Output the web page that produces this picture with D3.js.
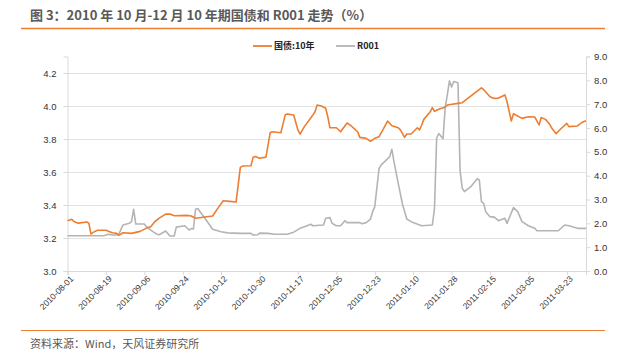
<!DOCTYPE html>
<html>
<head>
<meta charset="utf-8">
<script src="https://cdn.jsdelivr.net/npm/d3@7"></script>
<style>
	body { margin: 0; background: #fff; }
	svg { display: block; }
	.cjk { font-family: "Noto Sans CJK SC", "Noto Sans", sans-serif; }
	.num { font-family: "Liberation Sans", Arial, sans-serif; }
</style>
</head>
<body>
<div class="container"></div>
<script>
// 10年期国债收益率 (%)
const bond10y = [
	["2010-08-01", 3.305], ["2010-08-03", 3.313], ["2010-08-04", 3.300], ["2010-08-06", 3.290],
	["2010-08-10", 3.297], ["2010-08-11", 3.290], ["2010-08-12", 3.224], ["2010-08-13", 3.234],
	["2010-08-15", 3.247], ["2010-08-19", 3.247], ["2010-08-22", 3.232], ["2010-08-24", 3.228],
	["2010-08-25", 3.216], ["2010-08-27", 3.232], ["2010-08-31", 3.228], ["2010-09-04", 3.240],
	["2010-09-07", 3.260], ["2010-09-09", 3.268], ["2010-09-11", 3.300], ["2010-09-13", 3.320],
	["2010-09-16", 3.345], ["2010-09-18", 3.345], ["2010-09-20", 3.335], ["2010-09-26", 3.337],
	["2010-09-28", 3.333], ["2010-09-30", 3.320], ["2010-10-08", 3.333], ["2010-10-11", 3.390],
	["2010-10-13", 3.426], ["2010-10-16", 3.422], ["2010-10-19", 3.418], ["2010-10-21", 3.628],
	["2010-10-22", 3.636], ["2010-10-26", 3.638], ["2010-10-27", 3.690], ["2010-10-28", 3.694],
	["2010-10-30", 3.683], ["2010-11-02", 3.690], ["2010-11-04", 3.838], ["2010-11-05", 3.844],
	["2010-11-09", 3.838], ["2010-11-11", 3.945], ["2010-11-12", 3.952], ["2010-11-15", 3.945],
	["2010-11-17", 3.855], ["2010-11-18", 3.830], ["2010-11-20", 3.875], ["2010-11-24", 3.945],
	["2010-11-25", 3.965], ["2010-11-26", 4.006], ["2010-11-28", 4.000], ["2010-11-30", 3.986],
	["2010-12-01", 3.935], ["2010-12-02", 3.868], ["2010-12-05", 3.868], ["2010-12-07", 3.844],
	["2010-12-10", 3.897], ["2010-12-12", 3.879], ["2010-12-14", 3.855], ["2010-12-15", 3.844],
	["2010-12-16", 3.810], ["2010-12-19", 3.804], ["2010-12-21", 3.786], ["2010-12-23", 3.804],
	["2010-12-25", 3.814], ["2010-12-27", 3.860], ["2010-12-29", 3.909], ["2010-12-31", 3.880],
	["2011-01-03", 3.868], ["2011-01-04", 3.855], ["2011-01-06", 3.810], ["2011-01-07", 3.830],
	["2011-01-09", 3.830], ["2011-01-12", 3.868], ["2011-01-13", 3.855], ["2011-01-14", 3.885],
	["2011-01-15", 3.919], ["2011-01-18", 3.965], ["2011-01-19", 3.990], ["2011-01-20", 3.968],
	["2011-01-22", 3.980], ["2011-01-25", 3.994], ["2011-01-26", 4.006], ["2011-01-31", 4.016],
	["2011-02-02", 4.020], ["2011-02-11", 4.110], ["2011-02-12", 4.100], ["2011-02-15", 4.056],
	["2011-02-17", 4.046], ["2011-02-19", 4.048], ["2011-02-22", 4.067], ["2011-02-23", 4.026],
	["2011-02-25", 3.909], ["2011-02-26", 3.953], ["2011-03-02", 3.925], ["2011-03-05", 3.935],
	["2011-03-08", 3.933], ["2011-03-10", 3.885], ["2011-03-11", 3.930], ["2011-03-13", 3.919],
	["2011-03-15", 3.889], ["2011-03-16", 3.865], ["2011-03-18", 3.832], ["2011-03-20", 3.859],
	["2011-03-23", 3.895], ["2011-03-24", 3.875], ["2011-03-28", 3.879], ["2011-03-30", 3.900],
	["2011-04-01", 3.911]
];

// R001 (%)
const r001 = [
	["2010-08-01", 1.48], ["2010-08-18", 1.48], ["2010-08-20", 1.54], ["2010-08-23", 1.50],
	["2010-08-25", 1.54], ["2010-08-27", 1.93], ["2010-08-30", 2.00], ["2010-08-31", 2.07],
	["2010-09-01", 2.59], ["2010-09-02", 1.97], ["2010-09-06", 1.97], ["2010-09-07", 1.86],
	["2010-09-10", 1.65], ["2010-09-12", 1.54], ["2010-09-13", 1.52], ["2010-09-16", 1.68],
	["2010-09-18", 1.47], ["2010-09-20", 1.47], ["2010-09-21", 1.84], ["2010-09-25", 1.90],
	["2010-09-27", 1.72], ["2010-09-28", 1.78], ["2010-09-29", 1.76], ["2010-09-30", 2.59],
	["2010-10-01", 2.62], ["2010-10-05", 2.14], ["2010-10-08", 1.75], ["2010-10-12", 1.65],
	["2010-10-15", 1.60], ["2010-10-21", 1.58], ["2010-10-26", 1.58], ["2010-10-27", 1.51],
	["2010-10-29", 1.52], ["2010-10-30", 1.59], ["2010-11-03", 1.58], ["2010-11-06", 1.54],
	["2010-11-12", 1.54], ["2010-11-15", 1.63], ["2010-11-18", 1.79], ["2010-11-21", 1.89],
	["2010-11-23", 1.96], ["2010-11-24", 1.90], ["2010-11-29", 1.93], ["2010-11-30", 2.21],
	["2010-12-02", 2.24], ["2010-12-03", 2.00], ["2010-12-05", 1.90], ["2010-12-07", 1.90],
	["2010-12-09", 2.11], ["2010-12-10", 2.03], ["2010-12-16", 2.03], ["2010-12-17", 1.98],
	["2010-12-19", 2.03], ["2010-12-21", 2.18], ["2010-12-22", 2.49], ["2010-12-23", 2.70],
	["2010-12-25", 4.29], ["2010-12-26", 4.45], ["2010-12-28", 4.62], ["2010-12-30", 4.80],
	["2010-12-31", 5.11], ["2011-01-01", 4.59], ["2011-01-03", 3.68], ["2011-01-05", 2.80],
	["2011-01-07", 2.18], ["2011-01-09", 2.07], ["2011-01-14", 1.90], ["2011-01-19", 1.93],
	["2011-01-20", 2.63], ["2011-01-21", 5.58], ["2011-01-22", 5.77], ["2011-01-24", 5.55],
	["2011-01-25", 6.84], ["2011-01-26", 7.39], ["2011-01-27", 7.98], ["2011-01-28", 7.72],
	["2011-01-29", 7.95], ["2011-01-31", 7.90], ["2011-02-01", 4.20], ["2011-02-02", 3.47],
	["2011-02-03", 3.33], ["2011-02-06", 3.54], ["2011-02-09", 3.87], ["2011-02-10", 3.82],
	["2011-02-11", 2.91], ["2011-02-12", 2.84], ["2011-02-13", 2.49], ["2011-02-15", 2.28],
	["2011-02-17", 2.26], ["2011-02-19", 2.11], ["2011-02-22", 2.21], ["2011-02-23", 2.00],
	["2011-02-26", 2.66], ["2011-02-28", 2.49], ["2011-03-02", 2.07], ["2011-03-05", 1.90],
	["2011-03-08", 1.79], ["2011-03-09", 1.69], ["2011-03-19", 1.69], ["2011-03-22", 1.93],
	["2011-03-24", 1.90], ["2011-03-28", 1.79], ["2011-04-01", 1.79]
];

const xTickLabels = ["2010-08-01", "2010-08-19", "2010-09-06", "2010-09-24", "2010-10-12",
	"2010-10-30", "2010-11-17", "2010-12-05", "2010-12-23", "2011-01-10", "2011-01-28",
	"2011-02-15", "2011-03-05", "2011-03-23"];
const leftTicks = [3.0, 3.2, 3.4, 3.6, 3.8, 4.0, 4.2];
const rightTicks = [0, 1, 2, 3, 4, 5, 6, 7, 8, 9];
const seriesNames = ["国债:10年", "R001"];

const title = "图 3：2010 年 10 月-12 月 10 年期国债和 R001 走势（%）";
const source = "资料来源：Wind，天风证券研究所";

const orange = "#ed7d31";
const grey = "#b4b4b4";
const W = 624, H = 354;
const parse = d3.utcParse("%Y-%m-%d");

const svg = d3.select(".container").append("svg")
	.attr("width", W)
	.attr("height", H);

// header / footer
svg.append("text")
	.attr("class", "cjk")
	.attr("x", 30).attr("y", 20)
	.style("font-size", "13px")
	.style("font-weight", "bold")
	.style("fill", "#595959")
	.text(title);

svg.append("line")
	.attr("x1", 21).attr("x2", 605)
	.attr("y1", 28.5).attr("y2", 28.5)
	.style("stroke", orange).style("stroke-width", 1.5);

svg.append("line")
	.attr("x1", 21).attr("x2", 605)
	.attr("y1", 330.5).attr("y2", 330.5)
	.style("stroke", orange).style("stroke-width", 1.2);

svg.append("text")
	.attr("class", "cjk")
	.attr("x", 30).attr("y", 348)
	.style("font-size", "11px")
	.style("fill", "#595959")
	.text(source);

// scales
const plotLeft = 67.5, plotRight = 586, plotTop = 56.5, plotBottom = 271;

const x = d3.scaleUtc()
	.domain([parse("2010-08-01"), parse("2011-04-01")])
	.range([plotLeft, plotRight]);

const yL = d3.scaleLinear().domain([3.0, 4.3]).range([plotBottom, plotTop]);
const yR = d3.scaleLinear().domain([0, 9]).range([plotBottom, plotTop]);

// gridlines
svg.append("g")
	.selectAll("line")
		.data(leftTicks.slice(1)).enter()
	.append("line")
		.attr("x1", plotLeft).attr("x2", plotRight)
		.attr("y1", (d) => Math.round(yL(d)) + 0.5)
		.attr("y2", (d) => Math.round(yL(d)) + 0.5)
		.style("stroke", "#e3e3e3");

// axes
const axisLeft = svg.append("g")
	.attr("transform", `translate(${plotLeft},0)`)
	.call(d3.axisLeft(yL).tickValues(leftTicks).tickFormat(d3.format(".1f")).tickSize(4).tickPadding(7));

const axisRight = svg.append("g")
	.attr("transform", `translate(${plotRight},0)`)
	.call(d3.axisRight(yR).tickValues(rightTicks).tickFormat(d3.format(".1f")).tickSize(4).tickPadding(4));

const axisBottom = svg.append("g")
	.attr("transform", `translate(0,${plotBottom})`)
	.call(d3.axisBottom(x).tickValues(xTickLabels.map(parse)).tickFormat(d3.utcFormat("%Y-%m-%d")).tickSize(4).tickPadding(2));

[axisLeft, axisRight, axisBottom].forEach((g) => {
	g.select(".domain").style("stroke", "#d9d9d9");
	g.selectAll(".tick line").style("stroke", "#d9d9d9");
	g.selectAll("text")
		.attr("class", "num")
		.style("font-size", "9.5px")
		.style("fill", "#333");
});

axisBottom.selectAll("text")
	.style("font-size", "8.5px")
	.style("text-anchor", "end")
	.attr("dx", "-0.2em")
	.attr("dy", "0.5em")
	.attr("transform", "rotate(-45)");

// lines
const lineL = d3.line()
	.x((d) => x(parse(d[0])))
	.y((d) => yL(d[1]));

const lineR = d3.line()
	.x((d) => x(parse(d[0])))
	.y((d) => yR(d[1]));

svg.append("path")
	.datum(r001)
	.attr("d", lineR)
	.style("fill", "none")
	.style("stroke", grey)
	.style("stroke-width", 1.6)
	.style("stroke-linejoin", "round");

svg.append("path")
	.datum(bond10y)
	.attr("d", lineL)
	.style("fill", "none")
	.style("stroke", orange)
	.style("stroke-width", 1.6)
	.style("stroke-linejoin", "round");

// legend
const legendData = [
	{ name: seriesNames[0], color: orange, x: 253 },
	{ name: seriesNames[1], color: grey, x: 336 }
];

const legend = svg.append("g")
	.selectAll("g")
		.data(legendData).enter()
	.append("g")
		.attr("transform", (d) => `translate(${d.x},46)`);

legend.append("line")
	.attr("x2", 19)
	.style("stroke", (d) => d.color)
	.style("stroke-width", 1.8);

legend.append("text")
	.attr("class", "cjk")
	.attr("x", 21)
	.attr("dy", "0.35em")
	.style("font-size", "9px")
	.style("font-weight", "bold")
	.style("fill", "#222")
	.text((d) => d.name);
</script>
</body>
</html>
